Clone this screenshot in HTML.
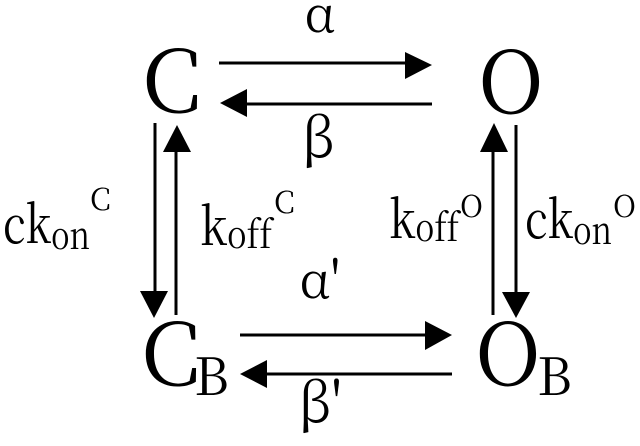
<!DOCTYPE html>
<html><head><meta charset="utf-8"><style>
html,body{margin:0;padding:0;background:#fff;}
svg{display:block;}
svg text{font-family:"Noto Serif CJK SC","Liberation Serif",serif;fill:#000;font-variant-ligatures:none;font-feature-settings:"liga" 0;}
</style></head><body>
<svg width="640" height="446" viewBox="0 0 640 446" xmlns="http://www.w3.org/2000/svg">
<g stroke="#000" stroke-width="3" fill="none">
<line x1="219" y1="63" x2="408" y2="63"/>
<line x1="244" y1="104" x2="432" y2="104"/>
<line x1="155" y1="123" x2="155" y2="293"/>
<line x1="176" y1="150" x2="176" y2="315"/>
<line x1="493" y1="150" x2="493" y2="315"/>
<line x1="516" y1="125" x2="516" y2="293"/>
<line x1="240" y1="335" x2="428" y2="335"/>
<line x1="264" y1="374" x2="452" y2="374"/>
</g>
<g fill="#000">
<polygon points="405,52 432,65 405,79"/>
<polygon points="247,89 220,103 247,117"/>
<polygon points="140,291 168,291 154,318"/>
<polygon points="163,152 191,152 177,125"/>
<polygon points="480,152 508,152 494,123"/>
<polygon points="502,292 530,292 516,318"/>
<polygon points="425,321 452,335 425,350"/>
<polygon points="267,360 240,374 267,388"/>
</g>
<text x="142" y="112" font-size="86">C</text>
<text x="478" y="113" font-size="86">O</text>
<text x="141" y="385" font-size="86">C</text>
<text x="194" y="395" font-size="52">B</text>
<text x="475" y="385" font-size="86">O</text>
<text x="537" y="395" font-size="52">B</text>
<text x="320" y="32" font-size="50" text-anchor="middle">α</text>
<text x="318" y="157" font-size="54" text-anchor="middle">β</text>
<text x="320" y="298" font-size="50" text-anchor="middle">α'</text>
<text x="320" y="422" font-size="54" text-anchor="middle">β'</text>
<text x="3" y="243" font-size="52" textLength="87" lengthAdjust="spacingAndGlyphs">ck<tspan font-size="38" dy="6">on</tspan></text>
<text x="90" y="210" font-size="30">C</text>
<text x="200" y="245" font-size="52" textLength="72" lengthAdjust="spacingAndGlyphs">k<tspan font-size="38" dy="3">off</tspan></text>
<text x="274" y="213" font-size="30">C</text>
<text x="389" y="238" font-size="52" textLength="70" lengthAdjust="spacingAndGlyphs">k<tspan font-size="38" dy="3">off</tspan></text>
<text x="460" y="217" font-size="30">O</text>
<text x="525" y="238" font-size="52" textLength="87" lengthAdjust="spacingAndGlyphs">ck<tspan font-size="38" dy="6">on</tspan></text>
<text x="613" y="217" font-size="30">O</text>
</svg>
</body></html>
